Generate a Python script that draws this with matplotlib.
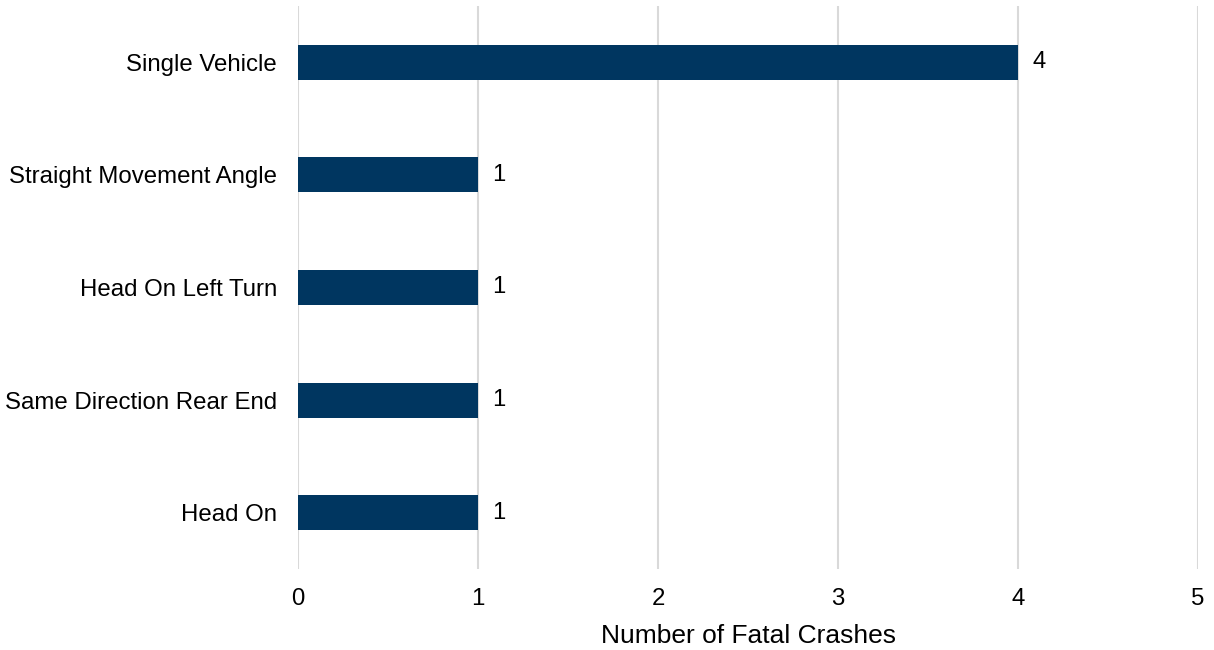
import matplotlib.pyplot as plt

plt.rcParams['font.family'] = ['Liberation Sans', 'DejaVu Sans']

# data, bottom to top
categories = ['Head On', 'Same Direction Rear End', 'Head On Left Turn',
              'Straight Movement Angle', 'Single Vehicle']
crashes = [1, 1, 1, 1, 4]

fig = plt.figure(figsize=(12.14, 6.5), dpi=100)
ax = fig.add_axes([0.2455, 0.1246, 0.7413, 0.8662])

pos = list(range(len(categories)))
ax.barh(pos, crashes, height=0.31, color='#003660', zorder=3)
for p, v in zip(pos, crashes):
    ax.text(v + 0.08, p, str(v), va='center', ha='left', fontsize=17.2, color='black')

ax.set_xlim(0, 5)
ax.set_ylim(-0.5, 4.5)
ax.set_xticks(range(0, 6))
ax.set_yticks(pos)
ax.set_yticklabels(categories)
ax.tick_params(axis='both', length=0, labelsize=17.3, colors='black')
ax.tick_params(axis='x', pad=14)
ax.tick_params(axis='y', pad=15)
ax.grid(axis='x', color='#d9d9d9', linewidth=1.5, zorder=0)
for s in ax.spines.values():
    s.set_visible(False)
ax.set_xlabel('Number of Fatal Crashes', fontsize=19, labelpad=10)

fig.savefig('out.png', dpi=100)
